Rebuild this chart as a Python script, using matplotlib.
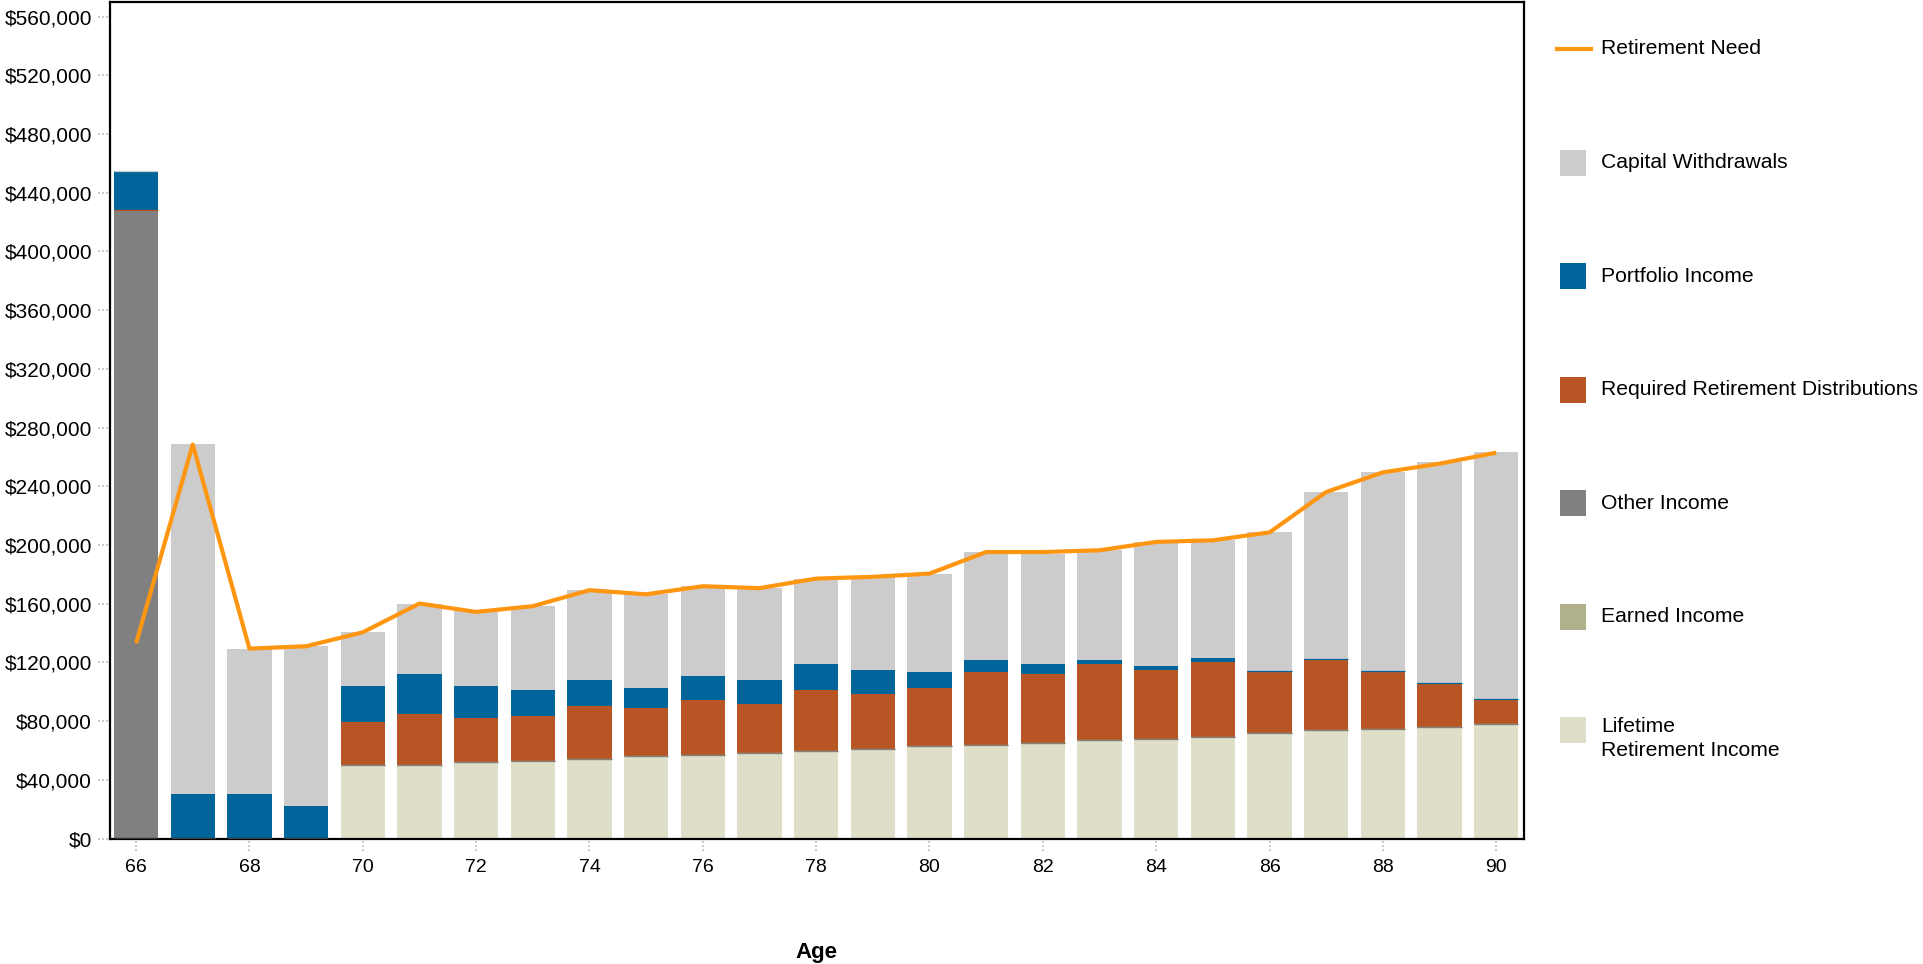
import numpy as np
import matplotlib
matplotlib.use("Agg")
import matplotlib.pyplot as plt
from matplotlib.lines import Line2D
from matplotlib.patches import Rectangle
from matplotlib.ticker import FuncFormatter

plt.rcParams["font.family"] = ["Liberation Sans", "DejaVu Sans"]

ages = np.arange(66, 91)

lifetime = [0, 0, 0, 0, 50400, 50400, 51800, 53100, 54500, 55900, 57200, 58600, 59900,
            61300, 62700, 64000, 65400, 66800, 68100, 69500, 72200, 73600, 74900, 76300, 77700]
earned = [0] * 25
other = [428000] + [0] * 24
rmd = [0, 0, 0, 0, 28800, 34300, 30100, 30200, 35600, 32900, 37000, 32900, 41100,
       37000, 39700, 49300, 46500, 51900, 46500, 50600, 42000, 48800, 39300, 29700, 17400]
portfolio = [26800, 30200, 30000, 22000, 24500, 27200, 21800, 17700, 17800, 13600, 16400, 16400, 17700,
             16300, 10900, 8200, 6800, 2800, 2800, 2700, 0, 0, 0, 0, 0]
capital = [0, 238300, 99400, 109000, 36800, 47700, 51100, 57300, 61300, 64000, 61300, 62700, 58400,
           63400, 66700, 73500, 75400, 75400, 84400, 80400, 94400, 113500, 135300, 150300, 168000]
need = [133000, 268500, 129400, 131000, 140500, 160100, 154400, 158300, 169200, 166400, 171900, 170600, 177100,
        178300, 180500, 195200, 195200, 196400, 202100, 203200, 208600, 236100, 249500, 255400, 262900]

series = [
    ("Lifetime\nRetirement Income", lifetime, "#DEDEC9"),
    ("Earned Income", earned, "#B0B08A"),
    ("Other Income", other, "#808080"),
    ("Required Retirement Distributions", rmd, "#B85525"),
    ("Portfolio Income", portfolio, "#00659A"),
    ("Capital Withdrawals", capital, "#CCCCCC"),
]
need_color = "#FF9612"

W, H = 1923, 964
fig = plt.figure(figsize=(W / 100, H / 100), dpi=100)
ax = fig.add_axes([110 / W, 1 - 838.5 / H, (1524 - 110) / W, (838.5 - 2) / H])

width = 0.78
bottom = np.zeros(len(ages))
zero_segments = []
for name, vals, color in series:
    vals = np.array(vals, dtype=float)
    ax.bar(ages, vals, width, bottom=bottom, color=color, linewidth=0, zorder=2)
    zero_segments.append((vals == 0, bottom.copy(), color))
    bottom = bottom + vals

# zero-height segments still show as a thin line in their colour
for mask, btm, color in zero_segments:
    ax.bar(ages[mask], np.zeros(mask.sum()), width, bottom=btm[mask],
           facecolor=color, edgecolor=color, linewidth=0.9, zorder=3)

ax.plot(ages, need, color=need_color, linewidth=3, zorder=5, solid_capstyle="butt")

ax.set_xlim(65.54, 90.49)
ax.set_ylim(0, 570000)
ax.set_yticks(np.arange(0, 560001, 40000))
ax.yaxis.set_major_formatter(FuncFormatter(lambda v, p: f"${v:,.0f}"))
ax.set_xticks(np.arange(66, 91, 2))
ax.tick_params(axis="both", length=0, colors="black")
ax.tick_params(axis="y", pad=13, labelsize=15)
ax.tick_params(axis="x", pad=15, labelsize=14)

for s in ax.spines.values():
    s.set_color("black")
    s.set_linewidth(1.6)

# dotted tick marks outside the axes
ytr = ax.get_yaxis_transform()
for v in ax.get_yticks():
    ax.plot([-0.0083, -0.0012], [v, v], transform=ytr, clip_on=False,
            color="#B5B5B5", linestyle=(0, (1, 1.5)), linewidth=1.2)
xtr = ax.get_xaxis_transform()
for v in ax.get_xticks():
    ax.plot([v, v], [-0.003, -0.016], transform=xtr, clip_on=False,
            color="#B5B5B5", linestyle=(0, (1, 1.5)), linewidth=1.2)

fig.text(816 / W, 1 - 958 / H, "Age", fontsize=16, fontweight="bold",
         ha="center", va="baseline")

# legend on the right
row0, step = 49, 113.5
fig.add_artist(Line2D([1557 / W, 1591 / W], [1 - row0 / H] * 2, color=need_color,
                      linewidth=3, transform=fig.transFigure))
fig.text(1601 / W, 1 - row0 / H, "Retirement Need", fontsize=15.2, va="center")

legend_order = ["Capital Withdrawals", "Portfolio Income", "Required Retirement Distributions",
                "Other Income", "Earned Income", "Lifetime\nRetirement Income"]
colors = {name: color for name, vals, color in series}
for i, name in enumerate(legend_order, start=1):
    yc = row0 + step * i
    fig.add_artist(Rectangle((1560 / W, 1 - (yc + 13) / H), 26 / W, 26 / H,
                             facecolor=colors[name], edgecolor="none", transform=fig.transFigure))
    if "\n" in name:
        fig.text(1601 / W, 1 - (yc - 13) / H, name, fontsize=15.2, va="top", linespacing=1.3)
    else:
        fig.text(1601 / W, 1 - yc / H, name, fontsize=15.2, va="center")

fig.savefig("out.png", dpi=100)
